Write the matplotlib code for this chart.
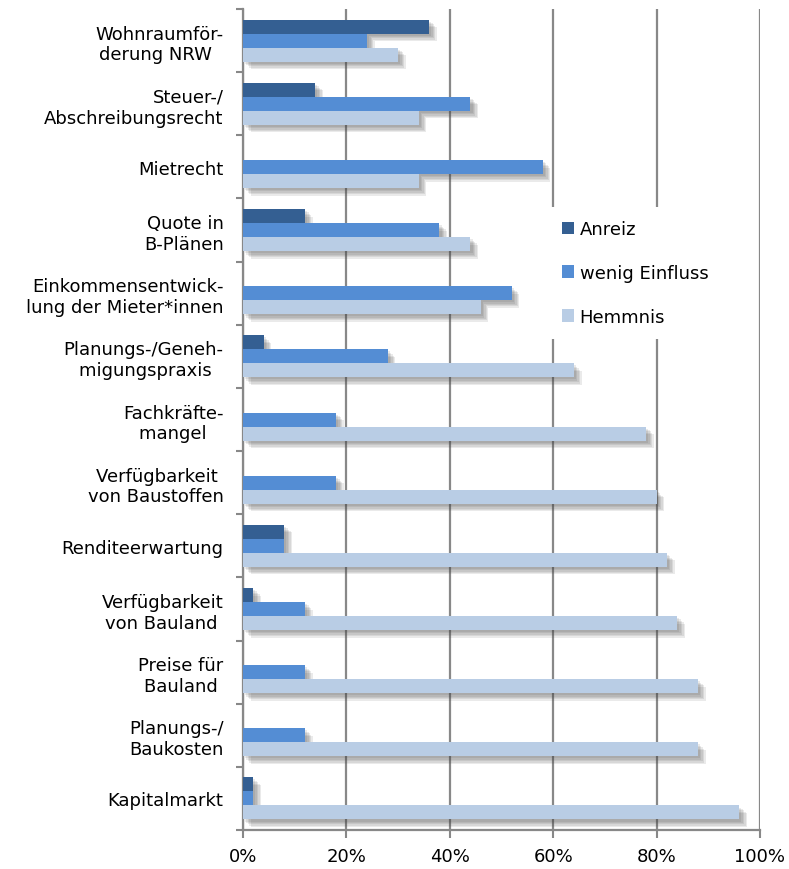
import numpy as np
import matplotlib
matplotlib.use("Agg")
import matplotlib.pyplot as plt
import matplotlib.patheffects as pe
from matplotlib.patches import Patch
from matplotlib.ticker import PercentFormatter

# Survey answers per factor (share of respondents, %)
categories = [
    "Wohnraumför-\nderung NRW  ",
    "Steuer-/\nAbschreibungsrecht",
    "Mietrecht",
    "Quote in\nB-Plänen",
    "Einkommensentwick-\nlung der Mieter*innen",
    "Planungs-/Geneh-\nmigungspraxis  ",
    "Fachkräfte-\nmangel   ",
    "Verfügbarkeit \nvon Baustoffen",
    "Renditeerwartung",
    "Verfügbarkeit\nvon Bauland ",
    "Preise für\nBauland ",
    "Planungs-/\nBaukosten",
    "Kapitalmarkt",
]
anreiz = [36, 14, 0, 12, 0, 4, 0, 0, 8, 2, 0, 0, 2]
wenig_einfluss = [24, 44, 58, 38, 52, 28, 18, 18, 8, 12, 12, 12, 2]
hemmnis = [30, 34, 34, 44, 46, 64, 78, 80, 82, 84, 88, 88, 96]

series_names = ["Anreiz", "wenig Einfluss", "Hemmnis"]
colors = ["#345f92", "#548dd4", "#b9cde5"]
grid_col = "#888888"

plt.rcParams["font.family"] = "DejaVu Sans"

fig = plt.figure(figsize=(7.89, 8.70), dpi=100)
ax = fig.add_axes([0.308, 0.0448, 0.6552, 0.9437])

y = np.arange(len(categories))
h = 0.222
# soft drop shadow below/right of each bar
shadow = [pe.SimplePatchShadow(offset=(d, -d), shadow_rgbFace="#444444", alpha=0.11)
          for d in (1.5, 2.5, 3.5, 4.5, 5.5)] + [pe.Normal()]

for k, vals in enumerate([anreiz, wenig_einfluss, hemmnis]):
    bars = ax.barh(y + (k - 1) * h, vals, height=h, color=colors[k], zorder=3)
    for b in bars:
        if b.get_width() > 0:
            b.set_path_effects(shadow)

ax.set_xlim(0, 100)
ax.set_ylim(len(categories) - 0.5, -0.5)
ax.set_xticks(np.arange(0, 101, 20))
ax.xaxis.set_major_formatter(PercentFormatter(decimals=0))
ax.set_yticks(y)
ax.set_yticklabels(categories, ha="right", multialignment="right")
ax.set_yticks(np.arange(-0.5, len(categories)), minor=True)

ax.tick_params(axis="y", which="major", length=0, pad=14, labelsize=13)
ax.tick_params(axis="y", which="minor", length=5, width=1.5, color=grid_col)
ax.tick_params(axis="x", length=6, width=1.5, color=grid_col, labelsize=13, pad=6)

ax.grid(axis="x", color=grid_col, linewidth=1.6, zorder=0)
ax.set_axisbelow(True)
for s in ["top", "right"]:
    ax.spines[s].set_visible(False)
for s in ["left", "bottom"]:
    ax.spines[s].set_color(grid_col)
    ax.spines[s].set_linewidth(1.6)

handles = [Patch(facecolor=c, edgecolor="none", label=n) for c, n in zip(colors, series_names)]
leg = ax.legend(handles=handles, loc="center left",
                bbox_to_anchor=(548 / 789, 1 - 274 / 870),
                bbox_transform=fig.transFigure, fontsize=13, frameon=True,
                facecolor="white", edgecolor="none", framealpha=1,
                handlelength=0.7, handleheight=0.7, handletextpad=0.3,
                labelspacing=1.42, borderpad=0.75, borderaxespad=0)
leg.set_zorder(5)

fig.savefig("out.png", dpi=100)
